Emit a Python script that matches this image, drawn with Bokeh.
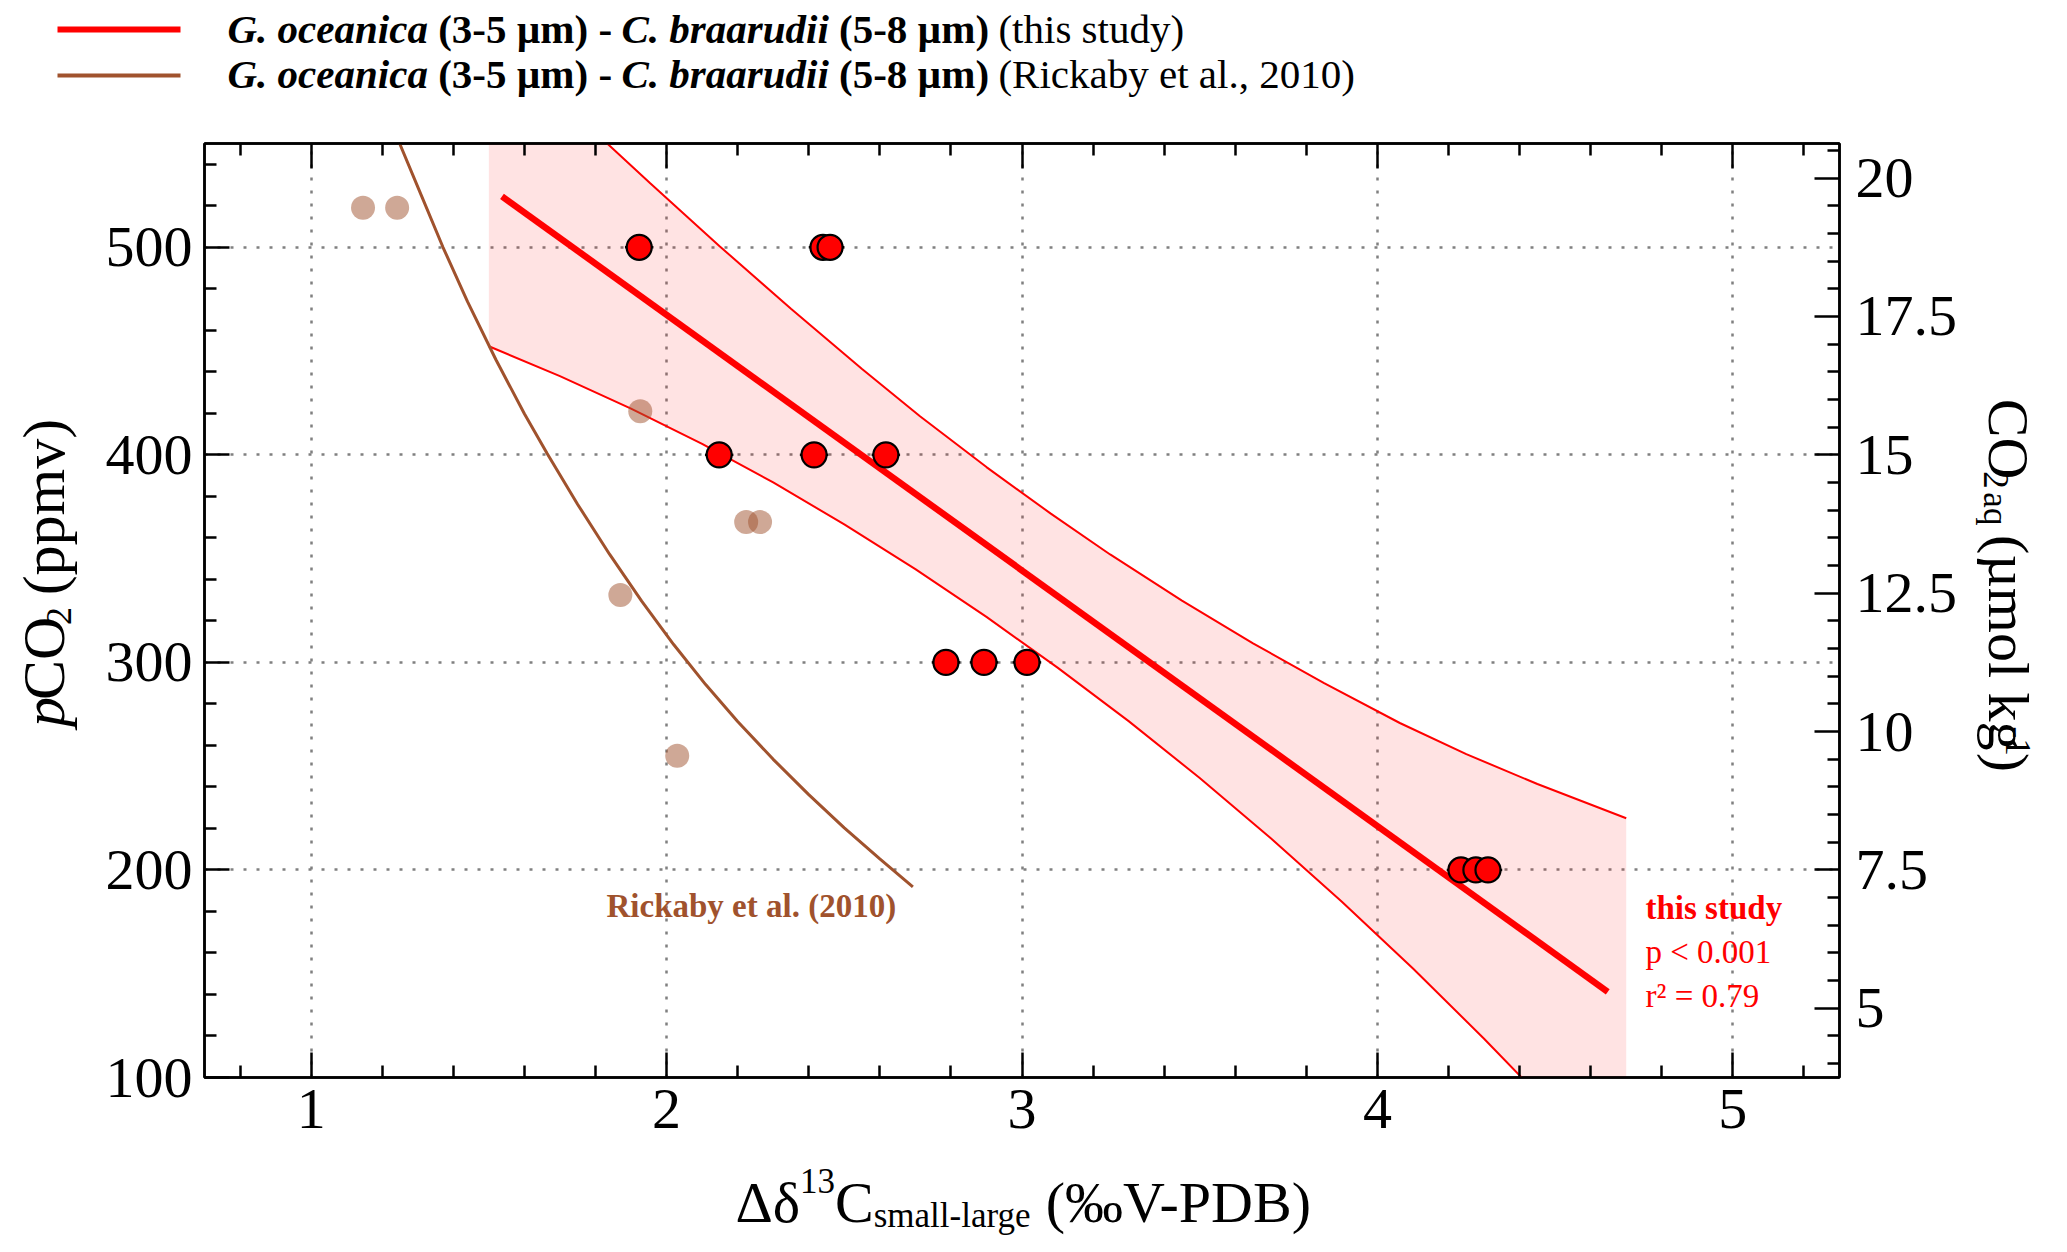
import math
from bokeh.embed import file_html
from bokeh.resources import INLINE
from bokeh.plotting import figure
from bokeh.layouts import column, row
from bokeh.models import (Range1d, LinearAxis, FixedTicker, NumeralTickFormatter,
                          CustomJSTickFormatter, Label, ColumnDataSource)

# ------------------------------------------------------------------ data
# this study: G. oceanica (3-5 um) - C. braarudii (5-8 um)
study_x = [1.923, 2.440, 2.460, 2.148, 2.415, 2.617, 2.786, 2.893, 3.014, 4.235, 4.277, 4.311]
study_y = [500, 500, 500, 400, 400, 400, 300, 300, 300, 200, 200, 200]
study_xerr = [0.04, 0.04, 0.04, 0.04, 0.04, 0.04, 0.04, 0.04, 0.04, 0.04, 0.04, 0.04]

# Rickaby et al. (2010) data points
rick_x = [1.146, 1.242, 1.926, 2.224, 2.263, 1.870, 2.030]
rick_y = [519, 519, 421, 367.6, 367.6, 332.5, 255]

# regression of this study
fit_x = [1.537, 4.648]
fit_y = [524.5, 141.3]

# confidence band of the regression
band_upper_x = [1.500, 1.833, 1.954, 2.150, 2.350, 2.550, 2.713, 2.900, 3.080, 3.248,
                3.450, 3.650, 3.850, 4.063, 4.250, 4.450, 4.700]
band_upper_y = [605, 550, 530.8, 500.4, 470.4, 441.4, 418.6, 394.1, 371.8, 352,
                329.8, 309.2, 290, 270.8, 255.8, 241.4, 224.9]
band_lower_x = [1.5, 1.7, 1.9, 2.1, 2.3, 2.5, 2.7, 2.9, 3.1, 3.3, 3.5, 3.7, 3.9,
                4.1, 4.3, 4.5, 4.7]
band_lower_y = [452.3, 437.9, 422.3, 405.3, 386.7, 366.5, 344.9, 321.9, 297.5, 271.7,
                244.3, 215.3, 184.7, 152.5, 118.7, 83.3, 46.3]

# Rickaby et al. (2010) curve
rcurve_x = [1.249, 1.310, 1.371, 1.440, 1.520, 1.600, 1.664, 1.750, 1.840, 1.930,
            2.020, 2.110, 2.200, 2.300, 2.400, 2.500, 2.600, 2.693]
rcurve_y = [550, 525, 500, 473.8, 445.8, 419.8, 400.6, 376.1, 352, 329.5,
            308.6, 289.3, 271.5, 253.3, 236.3, 220.3, 205.3, 191.8]

# axes
x_ticks = [1, 2, 3, 4, 5]
x_minor = [0.8, 1.2, 1.4, 1.6, 1.8, 2.2, 2.4, 2.6, 2.8, 3.2, 3.4, 3.6, 3.8,
           4.2, 4.4, 4.6, 4.8, 5.2]
y_ticks = [100, 200, 300, 400, 500]
y_minor = [120, 140, 160, 180, 220, 240, 260, 280, 320, 340, 360, 380,
           420, 440, 460, 480, 520, 540]
co2_ticks = [5, 7.5, 10, 12.5, 15, 17.5, 20]
co2_minor = [4.0, 4.5, 5.5, 6.0, 6.5, 7.0, 8.0, 8.5, 9.0, 9.5, 10.5, 11.0, 11.5, 12.0,
             13.0, 13.5, 14.0, 14.5, 15.5, 16.0, 16.5, 17.0, 18.0, 18.5, 19.0, 19.5, 20.5]
CO2_PER_PPM = 0.0375          # CO2aq (umol/kg) per ppmv
X_LO, X_HI = 0.7, 5.3
Y_LO, Y_HI = 100, 550

# ------------------------------------------------------------------ layout / style
FONT = "Liberation Serif"
RED = "#ff0000"
BROWN = "#a0522d"
PAGE_R, PAGE_B = 2048, 1238             # drawing size in picture px
FRAME_L, FRAME_T, FRAME_R, FRAME_B = 204, 143, 1839, 1077   # plot frame, picture px
LEG_B = 123          # legend strip: y 0..123
LEFT_R = 86          # left title strip: x 0..86
RIGHT_L = 1962       # right title strip: x 1962..PAGE_R
BOT_T = 1162         # bottom title strip: y 1162..PAGE_B
BASE_FIX = 0.35      # Label draws its baseline this many em below the anchor


def dx(X):
    return X_LO + (X - FRAME_L) * (X_HI - X_LO) / (FRAME_R - FRAME_L)


def dy(Y):
    return Y_HI - (Y - FRAME_T) * (Y_HI - Y_LO) / (FRAME_B - FRAME_T)


# Times-compatible advance widths (1/1000 em)
W_REG = {' ': 250, '(': 333, ')': 333, '-': 333, '.': 250, ',': 250, '<': 564, '=': 564,
         'B': 667, 'C': 667, 'D': 722, 'O': 722, 'P': 556, 'R': 667, 'V': 722,
         'a': 444, 'b': 500, 'c': 444, 'd': 500, 'e': 444, 'g': 500, 'h': 500, 'i': 278,
         'k': 500, 'l': 278, 'm': 778, 'n': 500, 'o': 500, 'p': 500, 'q': 500, 'r': 333,
         's': 389, 't': 278, 'u': 500, 'v': 500, 'y': 500, 'µ': 500, '‰': 1000,
         'Δ': 612, 'δ': 500}
W_BOLD = {' ': 250, '(': 333, ')': 333, '-': 333, '.': 250, ',': 250, 'µ': 556,
          'C': 722, 'G': 778, 'R': 722, 'a': 500, 'b': 556, 'c': 444, 'd': 556, 'e': 444,
          'h': 556, 'i': 278, 'k': 556, 'l': 278, 'm': 833, 'n': 556, 'o': 500, 'r': 444,
          's': 389, 't': 333, 'u': 556, 'y': 500}
W_BI = {' ': 250, '.': 250, 'G': 722, 'C': 667, 'a': 500, 'b': 500, 'c': 444, 'd': 500,
        'e': 444, 'i': 278, 'n': 556, 'o': 500, 'r': 389, 'u': 556}
W_IT = {'p': 500}
TABLES = {"normal": W_REG, "bold": W_BOLD, "bold italic": W_BI, "italic": W_IT}


def text_width(s, style, size):
    t = TABLES[style]
    return sum(t.get(ch, W_REG.get(ch, 500)) for ch in s) * size / 1000.0


# ------------------------------------------------------------------ main plot
p = figure(width=RIGHT_L - LEFT_R, height=BOT_T - LEG_B, title=None,
           x_range=Range1d(X_LO, X_HI), y_range=Range1d(Y_LO, Y_HI),
           output_backend="svg", toolbar_location=None,
           min_border_left=FRAME_L - LEFT_R,
           min_border_top=FRAME_T - LEG_B,
           min_border_right=RIGHT_L - FRAME_R,
           min_border_bottom=BOT_T - FRAME_B)
p.extra_y_ranges = {"co2": Range1d(Y_LO * CO2_PER_PPM, Y_HI * CO2_PER_PPM)}
p.background_fill_color = "white"
p.border_fill_color = "white"
p.outline_line_color = "black"
p.outline_line_width = 2.5


def style_axis(ax, ticker, standoff, labels=True):
    ax.ticker = ticker
    ax.axis_line_color = "black"
    ax.axis_line_width = 2.5
    ax.major_tick_line_color = "black"
    ax.major_tick_line_width = 2.5
    ax.minor_tick_line_color = "black"
    ax.minor_tick_line_width = 2.5
    ax.major_tick_in = 25
    ax.major_tick_out = 0
    ax.minor_tick_in = 12
    ax.minor_tick_out = 0
    ax.major_label_text_font = FONT
    ax.major_label_text_font_size = "58px" if labels else "2px"
    ax.major_label_text_color = "black"
    ax.major_label_standoff = standoff


style_axis(p.xaxis[0], FixedTicker(ticks=x_ticks, minor_ticks=x_minor), 12)
style_axis(p.yaxis[0], FixedTicker(ticks=y_ticks, minor_ticks=y_minor), 12)
top_axis = LinearAxis(formatter=CustomJSTickFormatter(code="return ''"))
style_axis(top_axis, FixedTicker(ticks=x_ticks, minor_ticks=x_minor), 0, labels=False)
p.add_layout(top_axis, "above")
right_axis = LinearAxis(y_range_name="co2")
style_axis(right_axis, FixedTicker(ticks=co2_ticks, minor_ticks=co2_minor), 16)
right_axis.formatter = NumeralTickFormatter(format="0.[0]")
p.add_layout(right_axis, "right")

p.xgrid.ticker = FixedTicker(ticks=x_ticks)
p.ygrid.ticker = FixedTicker(ticks=y_ticks)
for g in (p.xgrid[0], p.ygrid[0]):
    g.grid_line_color = "#808080"
    g.grid_line_width = 2.5
    g.grid_line_dash = "3 10"

band_x = band_upper_x + band_lower_x[::-1]
band_y = band_upper_y + band_lower_y[::-1]
p.patch(band_x, band_y, fill_color=RED, fill_alpha=0.11, line_color=None)
p.line(band_upper_x, band_upper_y, line_color=RED, line_width=2)
p.line(band_lower_x, band_lower_y, line_color=RED, line_width=2)

p.line(rcurve_x, rcurve_y, line_color=BROWN, line_width=3)
p.scatter(rick_x, rick_y, size=24, fill_color=BROWN, fill_alpha=0.5, line_color=None)

p.line(fit_x, fit_y, line_color=RED, line_width=6.5)

err_src = ColumnDataSource(dict(
    x0=[x - e for x, e in zip(study_x, study_xerr)],
    x1=[x + e for x, e in zip(study_x, study_xerr)],
    y=study_y))
p.segment(x0="x0", y0="y", x1="x1", y1="y", source=err_src, line_color="black", line_width=2.5)
p.scatter(study_x, study_y, size=25, fill_color=RED, line_color="black", line_width=2.2)


# ------------------------------------------------------------------ text helpers
def text_strip(L, T, R, B):
    """A bare figure whose data coordinates are picture pixels (y downward)."""
    f = figure(width=R - L, height=B - T, title=None,
               x_range=Range1d(L, R), y_range=Range1d(B, T),
               x_axis_type=None, y_axis_type=None, output_backend="svg",
               toolbar_location=None, min_border=0)
    f.outline_line_color = None
    f.background_fill_color = "white"
    f.border_fill_color = "white"
    return f


def put_text(fig, pieces, X, Y, angle=0.0, color="black", data=False):
    """pieces: (text, style, size_px, rise_px, gap_px); X, Y: baseline start in picture px."""
    ax_, ay_ = math.cos(angle), -math.sin(angle)
    ux, uy = -math.sin(angle), -math.cos(angle)
    adv = 0.0
    for text, style, size, rise, gap in pieces:
        adv += gap
        lead = len(text) - len(text.lstrip(" "))
        trail = len(text) - len(text.rstrip(" "))
        core = text.strip(" ")
        adv += lead * 250 * size / 1000.0
        up = rise + BASE_FIX * size
        px = X + adv * ax_ + up * ux
        py = Y + adv * ay_ + up * uy
        lx, ly = (dx(px), dy(py)) if data else (px, py)
        fig.add_layout(Label(x=lx, y=ly, text=core, angle=angle,
                             text_font=FONT, text_font_size=f"{size}px",
                             text_font_style=style, text_color=color,
                             text_align="left", text_baseline="alphabetic"))
        adv += text_width(core, style, size) + trail * 250 * size / 1000.0


MAIN, SMALL = 58, 35

# in-plot annotations
put_text(p, [("Rickaby et al. (2010)", "bold", 33, 0, 0)], 606, 917, color=BROWN, data=True)
put_text(p, [("this study", "bold", 33, 0, 0)], 1645, 919, color=RED, data=True)
put_text(p, [("p < 0.001", "normal", 33, 0, 0)], 1645, 963, color=RED, data=True)
put_text(p, [("r² = 0.79", "normal", 33, 0, 0)], 1645, 1007, color=RED, data=True)

# legend strip
leg = text_strip(0, 0, PAGE_R, LEG_B)
leg.line([57, 180], [29, 29], line_color=RED, line_width=6)
leg.line([57, 180], [75, 75], line_color=BROWN, line_width=4)
LEG = 41
common = [("G. oceanica", "bold italic", LEG, 0, 0), (" (3-5 µm) - ", "bold", LEG, 0, 0),
          ("C. braarudii", "bold italic", LEG, 0, 0), (" (5-8 µm)", "bold", LEG, 0, 0)]
put_text(leg, common + [(" (this study)", "normal", LEG, 0, 0)], 227, 43)
put_text(leg, common + [(" (Rickaby et al., 2010)", "normal", LEG, 0, 0)], 227, 88)

# left title strip
left = text_strip(0, LEG_B, LEFT_R, BOT_T)
put_text(left, [("p", "italic", 60, 0, 0), ("CO", "normal", 60, 0, 0),
                ("2", "normal", 36, -7, 0), (" (ppmv)", "normal", 60, 0, 0)],
         64, 772, angle=math.pi / 2)

# right title strip
right = text_strip(RIGHT_L, LEG_B, PAGE_R, BOT_T)
put_text(right, [("CO", "normal", MAIN, 0, 0), ("2", "normal", SMALL, -5, 0),
                 ("aq", "normal", SMALL, -5, 6), (" (µmol kg", "normal", MAIN, 0, 0),
                 ("-1", "normal", SMALL, 17, 2), (")", "normal", MAIN, 0, 0)],
         1988, 407, angle=-math.pi / 2)

# bottom title strip
bottom = text_strip(0, BOT_T, PAGE_R, PAGE_B)
put_text(bottom, [("Δδ", "normal", MAIN, 0, 0), ("13", "normal", SMALL, 29, 0),
                  ("C", "normal", MAIN, 0, 0), ("small-large", "normal", SMALL, -5, 0),
                  (" (‰V-PDB)", "normal", MAIN, 0, 0)], 735, 1222)

layout = column(leg, row(left, p, right), bottom)
open("out.html", "w").write(file_html(layout, INLINE))
